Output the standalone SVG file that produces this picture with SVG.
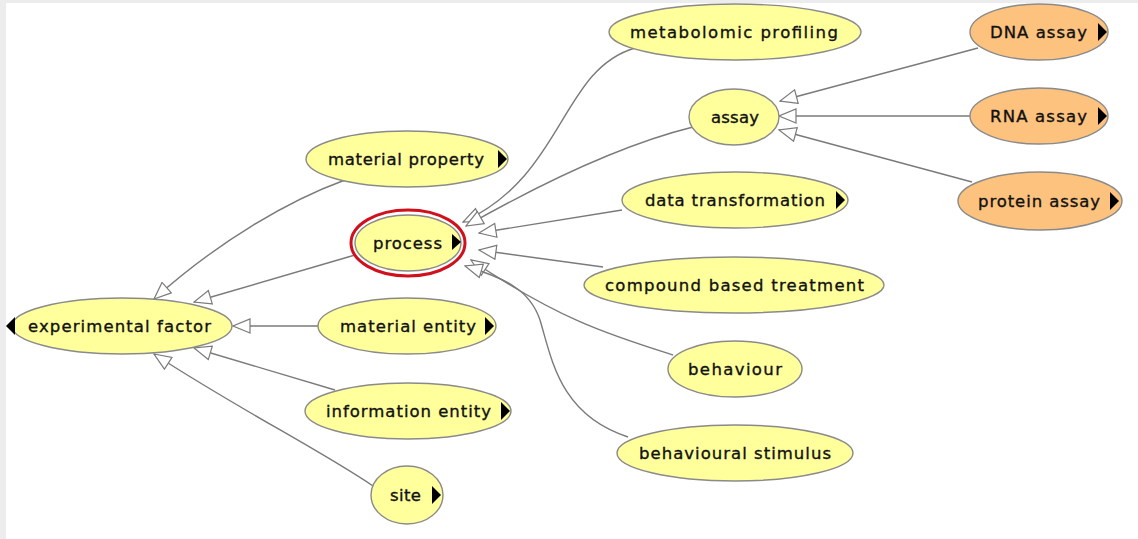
<svg xmlns="http://www.w3.org/2000/svg" width="1138" height="539" viewBox="0 0 1138 539">
  <style>
    .bg { fill: #ffffff; }
    .frame { fill: #ececec; }
    .node { fill: #ffff9c; stroke: #8a8a8a; stroke-width: 1.4; }
    .leaf { fill: #fdc27e; stroke: #8a8a8a; stroke-width: 1.4; }
    .focus { fill: none; stroke: #d0101c; stroke-width: 3; }
    .label { font-family: "DejaVu Sans", "Liberation Sans", sans-serif; font-size: 16.5px; fill: #111111; stroke: #111111; stroke-width: 0.35; }
    .tri { fill: #000000; }
    .edge { fill: none; stroke: #7a7a7a; stroke-width: 1.4; marker-end: url(#isa); }
  </style>
  <defs>
    <marker id="isa" viewBox="0 0 19 16" markerWidth="19" markerHeight="16" refX="18" refY="8" orient="auto" markerUnits="userSpaceOnUse">
      <path d="M1,1 L18,8 L1,15 Z" fill="#ffffff" stroke="#7a7a7a" stroke-width="1.2"/>
    </marker>
  </defs>

  <rect class="bg" x="0" y="0" width="1138" height="539"/>
  <rect class="frame" x="0" y="0" width="6" height="539"/>
  <rect class="frame" x="0" y="0" width="1138" height="3"/>

  <!-- subclass links: child -> parent -->
  <g id="connectors">
    <path class="edge" d="M345,180 C290,200 220,240 154,299"/>
    <path class="edge" d="M355,255 L194,302"/>
    <path class="edge" d="M318,326 L233,326"/>
    <path class="edge" d="M335,390 L194,348"/>
    <path class="edge" d="M373,486 C320,450 240,410 154,354"/>

    <path class="edge" d="M635,48 C560,70 565,175 463,222"/>
    <path class="edge" d="M693,127 Q600,150 466,226"/>
    <path class="edge" d="M622,210 L479,233"/>
    <path class="edge" d="M603,267 L479,250"/>
    <path class="edge" d="M673,355 C610,335 560,320 471,260"/>
    <path class="edge" d="M628,437 C560,415 552,360 540,320 C530,290 505,278 465,266"/>

    <path class="edge" d="M978,48 L780,101"/>
    <path class="edge" d="M970,116 L779,116"/>
    <path class="edge" d="M972,182 L779,130"/>
  </g>

  <g id="experimental-factor">
    <ellipse class="node" cx="122" cy="326" rx="110" ry="28"/>
    <path class="tri" d="M15,317 L6,326 L15,335 Z"/>
    <text class="label" x="28" y="332" textLength="183" lengthAdjust="spacing">experimental factor</text>
  </g>

  <g id="material-property">
    <ellipse class="node" cx="407" cy="159" rx="101" ry="28"/>
    <path class="tri" d="M498,150 L507,159 L498,168 Z"/>
    <text class="label" x="328" y="165" textLength="156" lengthAdjust="spacing">material property</text>
  </g>

  <g id="process">
    <ellipse class="focus" cx="408" cy="243" rx="57" ry="33"/>
    <ellipse class="node" cx="408" cy="243" rx="53" ry="28"/>
    <path class="tri" d="M452,234 L461,242 L452,250 Z"/>
    <text class="label" x="373" y="249" textLength="69" lengthAdjust="spacing">process</text>
  </g>

  <g id="material-entity">
    <ellipse class="node" cx="407" cy="326" rx="89" ry="28"/>
    <path class="tri" d="M485,317 L494,326 L485,335 Z"/>
    <text class="label" x="340" y="332" textLength="136" lengthAdjust="spacing">material entity</text>
  </g>

  <g id="information-entity">
    <ellipse class="node" cx="408" cy="411" rx="103" ry="28"/>
    <path class="tri" d="M501,402 L510,411 L501,420 Z"/>
    <text class="label" x="326" y="417" textLength="165" lengthAdjust="spacing">information entity</text>
  </g>

  <g id="site">
    <ellipse class="node" cx="407" cy="495" rx="36" ry="29"/>
    <path class="tri" d="M432,486 L441,495 L432,504 Z"/>
    <text class="label" x="390" y="501" textLength="31" lengthAdjust="spacing">site</text>
  </g>

  <g id="metabolomic-profiling">
    <ellipse class="node" cx="735" cy="32" rx="126" ry="28"/>
    <text class="label" x="630" y="38" textLength="208" lengthAdjust="spacing">metabolomic profiling</text>
  </g>

  <g id="assay">
    <ellipse class="node" cx="734" cy="117" rx="45" ry="28"/>
    <text class="label" x="711" y="123" textLength="48" lengthAdjust="spacing">assay</text>
  </g>

  <g id="data-transformation">
    <ellipse class="node" cx="735" cy="200" rx="113" ry="28"/>
    <path class="tri" d="M836,191 L845,200 L836,209 Z"/>
    <text class="label" x="645" y="206" textLength="180" lengthAdjust="spacing">data transformation</text>
  </g>

  <g id="compound-based-treatment">
    <ellipse class="node" cx="734" cy="285" rx="150" ry="28"/>
    <text class="label" x="605" y="291" textLength="259" lengthAdjust="spacing">compound based treatment</text>
  </g>

  <g id="behaviour">
    <ellipse class="node" cx="735" cy="369" rx="67" ry="28"/>
    <text class="label" x="688" y="375" textLength="94" lengthAdjust="spacing">behaviour</text>
  </g>

  <g id="behavioural-stimulus">
    <ellipse class="node" cx="735" cy="453" rx="118" ry="28"/>
    <text class="label" x="639" y="459" textLength="192" lengthAdjust="spacing">behavioural stimulus</text>
  </g>

  <g id="dna-assay">
    <ellipse class="leaf" cx="1039" cy="32" rx="69" ry="28"/>
    <path class="tri" d="M1098,23 L1107,32 L1098,41 Z"/>
    <text class="label" x="990" y="38" textLength="97" lengthAdjust="spacing">DNA assay</text>
  </g>

  <g id="rna-assay">
    <ellipse class="leaf" cx="1039" cy="116" rx="69" ry="28"/>
    <path class="tri" d="M1098,107 L1107,116 L1098,125 Z"/>
    <text class="label" x="990" y="122" textLength="97" lengthAdjust="spacing">RNA assay</text>
  </g>

  <g id="protein-assay">
    <ellipse class="leaf" cx="1040" cy="201" rx="82" ry="29"/>
    <path class="tri" d="M1110,192 L1119,201 L1110,210 Z"/>
    <text class="label" x="978" y="207" textLength="122" lengthAdjust="spacing">protein assay</text>
  </g>
</svg>
